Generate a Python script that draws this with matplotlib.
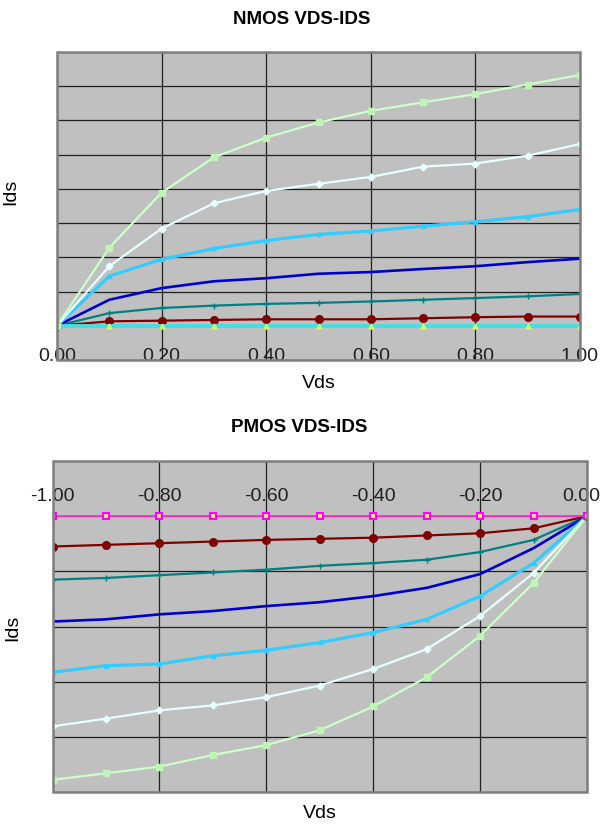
import matplotlib.pyplot as plt
import matplotlib.transforms as mtransforms
from matplotlib.patches import Rectangle

plt.rcParams['font.family'] = ['Liberation Sans', 'DejaVu Sans']

# NMOS: Vds sweep 0..1 V, Ids read in grid units (no y labels on the chart)
vds_n = [0.0, 0.1, 0.2, 0.3, 0.4, 0.5, 0.6, 0.7, 0.8, 0.9, 1.0]
n_green = [0, 2.28, 3.89, 4.92, 5.50, 5.94, 6.28, 6.53, 6.77, 7.05, 7.33]
n_white = [0, 1.74, 2.84, 3.58, 3.94, 4.15, 4.35, 4.65, 4.74, 4.97, 5.31]
n_sky = [0, 1.45, 1.94, 2.26, 2.49, 2.67, 2.77, 2.91, 3.04, 3.19, 3.40]
n_blue = [0, 0.76, 1.10, 1.30, 1.39, 1.52, 1.57, 1.66, 1.74, 1.86, 1.96]
n_teal = [0, 0.37, 0.52, 0.59, 0.64, 0.67, 0.71, 0.76, 0.81, 0.86, 0.93]
n_red = [0, 0.13, 0.15, 0.17, 0.19, 0.19, 0.19, 0.22, 0.25, 0.27, 0.27]
n_zero = [0, 0, 0, 0, 0, 0, 0, 0, 0, 0, 0]

# PMOS: Vds sweep -1..0 V
vds_p = [-1.0, -0.9, -0.8, -0.7, -0.6, -0.5, -0.4, -0.3, -0.2, -0.1, 0.0]
p_green = [-4.78, -4.66, -4.54, -4.33, -4.15, -3.88, -3.45, -2.92, -2.17, -1.21, 0]
p_white = [-3.81, -3.67, -3.52, -3.43, -3.28, -3.07, -2.77, -2.41, -1.81, -1.03, 0]
p_sky = [-2.83, -2.71, -2.68, -2.53, -2.43, -2.29, -2.11, -1.87, -1.45, -0.85, 0]
p_blue = [-1.91, -1.87, -1.78, -1.72, -1.63, -1.56, -1.45, -1.30, -1.05, -0.58, 0]
p_teal = [-1.15, -1.12, -1.07, -1.02, -0.97, -0.90, -0.85, -0.79, -0.65, -0.43, 0]
p_red = [-0.55, -0.52, -0.49, -0.46, -0.43, -0.41, -0.39, -0.35, -0.31, -0.22, 0]
p_zero = [0, 0, 0, 0, 0, 0, 0, 0, 0, 0, 0]

n_xticks = [0.0, 0.2, 0.4, 0.6, 0.8, 1.0]
p_xticks = [-1.0, -0.8, -0.6, -0.4, -0.2, 0.0]


def style_axes(ax, xticks, yticks):
    ax.set_facecolor('#c0c0c0')
    for s in ax.spines.values():
        s.set_color('none')
    ax.add_patch(Rectangle((0, 0), 1, 1, transform=ax.transAxes, fill=False,
                           edgecolor='#808080', linewidth=1.8, clip_on=False, zorder=5))
    ax.set_xticks(xticks)
    ax.set_xticklabels(['%.2f' % v for v in xticks])
    ax.set_yticks(yticks)
    ax.tick_params(axis='y', length=0, labelleft=False)
    ax.grid(True, color='#202020', linewidth=0.9)
    ax.set_axisbelow(True)


def draw_curves(ax, x, green, white, sky, blue, teal, red):
    ax.plot(x, teal, color='#008080', lw=1.6, marker='+', ms=5, mew=1)
    ax.plot(x, blue, color='#0000cc', lw=1.9)
    ax.plot(x, sky, color='#33ccff', lw=2.3, marker='^', ms=3, mec='#33ccff')
    ax.plot(x, white, color='#e6ffff', lw=1.6, marker='D', ms=3.5, mec='#e6ffff')
    ax.plot(x, green, color='#ccffcc', lw=1.6, marker='s', ms=5, mfc='#bff5b5', mec='#bff5b5')
    ax.plot(x, red, color='#800000', lw=1.6, marker='o', ms=5.5)


fig = plt.figure(figsize=(6.01, 8.28), dpi=100)

# ---- NMOS ----
ax1 = fig.add_axes([57 / 601, 1 - 361 / 828, 523 / 601, 308 / 828])
style_axes(ax1, n_xticks, range(-1, 9))
ax1.set_xlim(0, 1)
ax1.set_ylim(-1, 8)
ax1.spines['bottom'].set_position(('data', 0))
ax1.tick_params(axis='x', length=0, pad=15, labelsize=14, labelcolor='#202020')
draw_curves(ax1, vds_n, n_green, n_white, n_sky, n_blue, n_teal, n_red)
ax1.plot(vds_n, n_zero, color='#40e0e0', lw=2.8, marker='^', ms=3.5,
         mfc='#ccff66', mec='#ccff66', zorder=3)
ax1.plot(vds_n[:1], n_green[:1], ls='none', marker='s', ms=5,
         mfc='#bff5b5', mec='#bff5b5', zorder=4)
ax1.set_xlabel('Vds', fontsize=14)
ax1.xaxis.set_label_coords(0.5, -0.045)
ax1.set_ylabel('Ids', fontsize=14)
ax1.yaxis.set_label_coords(-0.072, 0.55)
fig.text(0.502, 1 - 19 / 828, 'NMOS VDS-IDS', ha='center', va='center',
         fontsize=13.5, fontweight='bold')

# ---- PMOS ----
ax2 = fig.add_axes([52.5 / 601, 1 - 793 / 828, 534.5 / 601, 331 / 828])
style_axes(ax2, p_xticks, range(-5, 2))
ax2.set_xlim(-1, 0)
ax2.set_ylim(-5, 1)
ax2.xaxis.tick_top()
ax2.spines['top'].set_position(('data', 0))
ax2.tick_params(axis='x', length=0, pad=9, labelsize=14, labelcolor='#202020')
ax2.plot(vds_p, p_zero, color='#ff33cc', lw=1.3, marker='s', ms=5,
         mfc='#ffee66', mec='#ff00ff', mew=1.5, zorder=3)
draw_curves(ax2, vds_p, p_green, p_white, p_sky, p_blue, p_teal, p_red)
# last label sits a little left of its tick, as in the source
last = ax2.get_xticklabels()[-1]
last.set_transform(last.get_transform() +
                   mtransforms.ScaledTranslation(-6 / 100, 0, fig.dpi_scale_trans))
ax2.set_xlabel('Vds', fontsize=14)
ax2.xaxis.set_label_position('bottom')
ax2.xaxis.set_label_coords(0.5, -0.036)
ax2.set_ylabel('Ids', fontsize=14)
ax2.yaxis.set_label_coords(-0.059, 0.5)
fig.text(0.497, 1 - 427.5 / 828, 'PMOS VDS-IDS', ha='center', va='center',
         fontsize=13.5, fontweight='bold')

fig.savefig('out.png', dpi=100)
